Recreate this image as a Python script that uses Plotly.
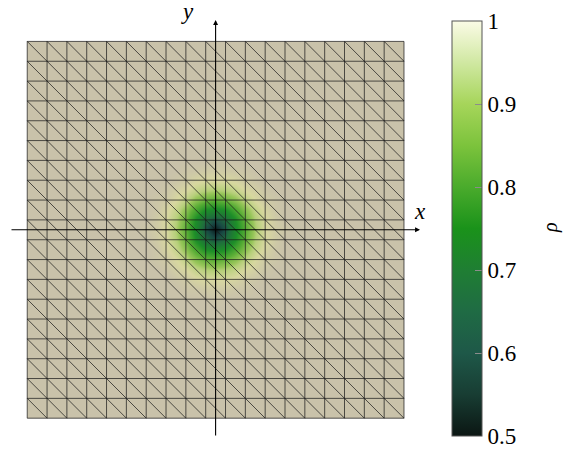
import numpy as np
import plotly.graph_objects as go

# ---------------- data ----------------
N_CELLS = 19                      # mesh cells per side (domain -9.5 .. 9.5)
HALF = N_CELLS / 2

# density rho sampled on a half-cell grid, one quadrant (rows = y offset, cols = x offset), 0..4 cells
RHO_QUADRANT = [
    [0.50, 0.56, 0.68, 0.80, 0.89, 0.95, 0.98, 0.99, 1.00],
    [0.56, 0.60, 0.70, 0.82, 0.90, 0.95, 0.98, 1.00, 1.00],
    [0.68, 0.70, 0.78, 0.86, 0.92, 0.96, 0.99, 1.00, 1.00],
    [0.80, 0.82, 0.86, 0.91, 0.95, 0.98, 0.99, 1.00, 1.00],
    [0.89, 0.90, 0.92, 0.95, 0.97, 0.99, 1.00, 1.00, 1.00],
    [0.95, 0.95, 0.96, 0.98, 0.99, 1.00, 1.00, 1.00, 1.00],
    [0.98, 0.98, 0.99, 0.99, 1.00, 1.00, 1.00, 1.00, 1.00],
    [0.99, 1.00, 1.00, 1.00, 1.00, 1.00, 1.00, 1.00, 1.00],
    [1.00, 1.00, 1.00, 1.00, 1.00, 1.00, 1.00, 1.00, 1.00],
]
PATCH_OFFSETS = [0.0, 0.5, 1.0, 1.5, 2.0, 2.5, 3.0, 3.5, 4.0]

CB_TICKS = [0.5, 0.6, 0.7, 0.8, 0.9, 1.0]
CB_TICKTEXT = ["0.5", "0.6", "0.7", "0.8", "0.9", "1"]
RHO_MIN, RHO_MAX = 0.5, 1.0

# ---------------- styles ----------------
BEIGE = "#c9c2aa"
FIELD_SCALE = [
    [0.0, "#0a1a1c"], [0.1, "#194844"], [0.2, "#1f6c3e"], [0.4, "#1d8f28"],
    [0.6, "#58ad35"], [0.75, "#98c65a"], [0.8, "#b6d07a"], [0.9, "#d8d8a0"],
    [1.0, BEIGE],
]
CB_SCALE = [
    [0.0, "#0b1613"], [0.1, "#183d33"], [0.2, "#1e5848"], [0.3, "#1f6b44"],
    [0.4, "#1f7e33"], [0.5, "#1a921a"], [0.6, "#4aab2c"], [0.7, "#7cc33c"],
    [0.8, "#a6d55a"], [0.9, "#d0e8a2"], [1.0, "#fbfbe6"],
]
FONT = "Liberation Serif"

W, H = 563, 451
PLOT_W = 440
S = 19.83                 # px per mesh unit
OX, OY = 215.6, 229.8     # pixel position of origin

def dx(px):
    return (px - OX) / S

def dy(py):
    return (OY - py) / S

# full symmetric patch
q = np.array(RHO_QUADRANT)
top = np.hstack([q[:, :0:-1], q])
patch = np.vstack([top[:0:-1, :], top])
offs = np.array(PATCH_OFFSETS)
pcoords = np.concatenate([-offs[:0:-1], offs])

fig = go.Figure()

fig.add_shape(type="rect", x0=-HALF, x1=HALF, y0=-HALF, y1=HALF,
              fillcolor=BEIGE, line=dict(width=0), layer="below")

fig.add_trace(go.Heatmap(
    x=pcoords, y=pcoords, z=patch, zmin=RHO_MIN, zmax=RHO_MAX,
    colorscale=FIELD_SCALE, zsmooth="best", showscale=False, hoverinfo="skip"))

# mesh edges
xs, ys = [], []
edges = np.arange(N_CELLS + 1) - HALF
for e in edges:
    xs += [e, e, None]; ys += [-HALF, HALF, None]
    xs += [-HALF, HALF, None]; ys += [e, e, None]
for c in range(-(N_CELLS - 1), N_CELLS):
    x0 = max(-HALF, c - HALF)
    x1 = min(HALF, c + HALF)
    xs += [x0, x1, None]; ys += [c - x0, c - x1, None]
fig.add_trace(go.Scatter(x=xs, y=ys, mode="lines",
                         line=dict(color="rgba(25,25,25,0.72)", width=1),
                         hoverinfo="skip", showlegend=False))

# colorbar carrier
fig.add_trace(go.Scatter(
    x=[None], y=[None], mode="markers", showlegend=False,
    marker=dict(color=[RHO_MIN], cmin=RHO_MIN, cmax=RHO_MAX, colorscale=CB_SCALE,
                showscale=True,
                colorbar=dict(
                    x=452 / PLOT_W, xanchor="left", xpad=0, ypad=0,
                    y=1 - 21 / H, yanchor="top", len=415, lenmode="pixels",
                    thickness=30, thicknessmode="pixels",
                    outlinewidth=1, outlinecolor="#555555",
                    tickvals=CB_TICKS, ticktext=CB_TICKTEXT,
                    ticks="inside", ticklen=7, tickcolor="#8c8c8c", tickwidth=1,
                    tickfont=dict(family=FONT, size=23, color="black"),
                ))))

# left-side colorbar tick marks
for v in CB_TICKS[1:-1]:
    py = 436 - (v - RHO_MIN) / (RHO_MAX - RHO_MIN) * 415
    fig.add_shape(type="line", xref="paper", yref="paper",
                  x0=452 / PLOT_W, x1=459 / PLOT_W, y0=1 - py / H, y1=1 - py / H,
                  line=dict(color="#8c8c8c", width=1))

# axes arrows
fig.add_annotation(x=dx(420), y=0, ax=dx(10), ay=0, xref="x", yref="y",
                   axref="x", ayref="y", showarrow=True, arrowhead=2,
                   arrowsize=0.9, arrowwidth=1.1, arrowcolor="black", text="")
fig.add_annotation(x=0, y=dy(20), ax=0, ay=dy(437), xref="x", yref="y",
                   axref="x", ayref="y", showarrow=True, arrowhead=2,
                   arrowsize=0.9, arrowwidth=1.1, arrowcolor="black", text="")
fig.add_annotation(x=dx(420), y=dy(211), text="<i>x</i>", showarrow=False,
                   font=dict(family=FONT, size=23, color="black"))
fig.add_annotation(x=dx(187), y=dy(11), text="<i>y</i>", showarrow=False,
                   font=dict(family=FONT, size=23, color="black"))
fig.add_annotation(xref="paper", yref="paper", x=551 / PLOT_W, y=1 - 228 / H,
                   xanchor="center", yanchor="middle", borderpad=0,
                   text="<i>ρ</i>", textangle=-90, showarrow=False,
                   font=dict(family=FONT, size=20, color="black"))

fig.update_layout(
    width=W, height=H,
    margin=dict(l=0, r=W - PLOT_W, t=0, b=0),
    paper_bgcolor="white", plot_bgcolor="white",
    xaxis=dict(range=[dx(0), dx(PLOT_W)], visible=False, fixedrange=True),
    yaxis=dict(range=[dy(H), dy(0)], visible=False, fixedrange=True),
    showlegend=False,
)

fig.write_html("out.html", config={"displayModeBar": False},
               post_script="document.body.style.margin='0';document.body.style.overflow='hidden';")
